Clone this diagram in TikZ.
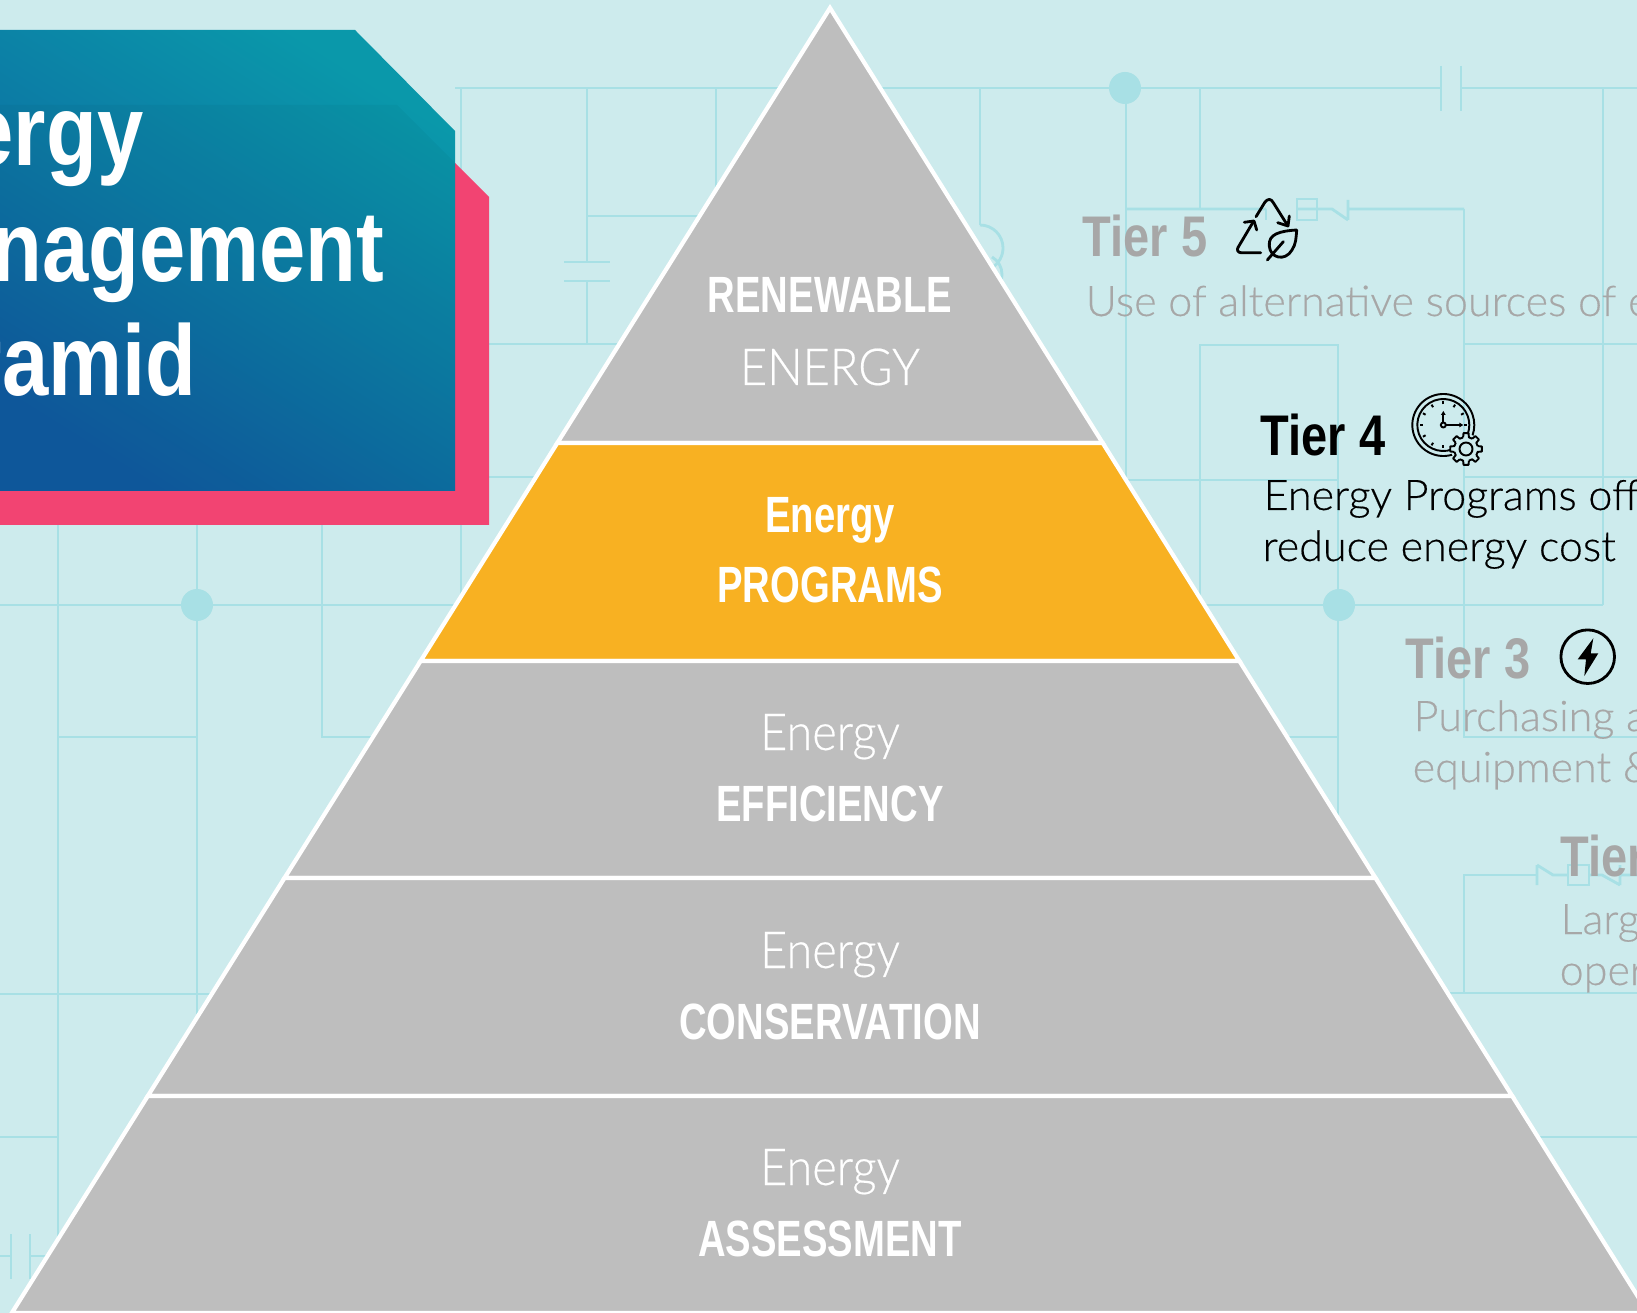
\documentclass[tikz,border=0pt]{standalone}
\usepackage{xcolor}
\usepackage{fontspec}
\usepackage{tikz}
\newfontfamily\boldcond[FakeStretch=.75]{Liberation Sans Bold}
\newfontfamily\titlebold[FakeStretch=.83]{Liberation Sans Bold}
\newfontfamily\tierbold[FakeStretch=.82]{Liberation Sans Bold}
\newfontfamily\lightcond[FakeStretch=.92,FakeBold=.4]{Lato Light}
\newfontfamily\lightwide[FakeStretch=1.02,FakeBold=.4]{Lato Light}
\newcommand{\fsize}[1]{\fontsize{#1}{#1}\selectfont}
\definecolor{bgteal}{HTML}{CDEBED}
\definecolor{wireteal}{HTML}{A8E0E5}
\definecolor{pyrgray}{HTML}{BEBEBE}
\definecolor{pyrorange}{HTML}{F8B122}
\definecolor{titlepink}{HTML}{F24472}
\definecolor{titleblue}{HTML}{0F5A9F}
\definecolor{titlegreen}{HTML}{0A98AA}
\definecolor{tiergray}{HTML}{A7A7A7}
\begin{document}
\begin{tikzpicture}[x=0.01cm,y=-0.01cm,
            wire/.style = {draw=wireteal,line width=0.8pt},
            junction/.style = {fill=wireteal},
            band/.style = {draw=white,line width=1.2pt},
            pyrbold/.style = {anchor=base,inner sep=0pt,text=white,font=\boldcond\fsize{14.5}},
            pyrlight/.style = {anchor=base,inner sep=0pt,text=white,font=\lightcond\fsize{14.5}},
            titleline/.style = {anchor=base east,inner sep=0pt,text=white,font=\titlebold\fsize{28.5}},
            tierhead/.style = {anchor=base west,inner sep=0pt,font=\tierbold\fsize{16.3}},
            tiertext/.style = {anchor=base west,inner sep=0pt,font=\lightwide\fsize{12}},
            icon/.style = {draw=black,line width=0.8pt,line cap=round,line join=round},
            fineicon/.style = {draw=black,line width=0.55pt,line join=round}]
            \useasboundingbox (0,0) rectangle (1637,1313);
            \clip (0,0) rectangle (1637,1313);
            \fill[bgteal] (0,0) rectangle (1637,1313);
            % Circuit, upper part
            \draw[wire] (455,88) -- (1441,88) (1461,88) -- (1637,88);
            \draw[wire] (1441,66) -- (1441,111) (1461,66) -- (1461,111);
            \draw[wire] (461,88) -- (461,600);
            \draw[wire] (587,88) -- (587,262) (564,262) -- (610,262) (564,281) -- (610,281) (587,281) -- (587,344);
            \draw[wire] (587,216) -- (700,216);
            \draw[wire] (716,88) -- (716,190);
            \draw[wire] (489,344) -- (625,344) (489,477) -- (540,477);
            \draw[wire] (980,88) -- (980,225);
            \draw[wire] (980,225) arc[start angle=-90,end angle=60,radius=23];
            \draw[wire] (992,257) arc[start angle=-60,end angle=40,radius=20];
            % Circuit, right part
            \draw[wire] (1126,88) -- (1126,480) -- (1338,480);
            \draw[wire] (1200,88) -- (1200,209);
            \draw[wire] (1126,209) -- (1266,209) (1297,209) -- (1317,209) (1317,209) -- (1332,209) -- (1348,220) (1348,200) -- (1348,220) (1348,209) -- (1464,209);
            \draw[wire] (1266,209) -- (1266,220);
            \draw[wire] (1297,199) rectangle (1317,220);
            \draw[wire] (1200,600) -- (1200,345) -- (1338,345) -- (1338,817);
            \draw[wire] (1464,209) -- (1464,737) -- (1637,737);
            \draw[wire] (1603,88) -- (1603,605);
            \draw[wire] (1464,344) -- (1637,344) (1464,477) -- (1637,477);
            \draw[wire] (1195,605) -- (1603,605);
            \draw[wire] (1285,737) -- (1338,737);
            \draw[wire] (1450,993) -- (1637,993) (1464,993) -- (1464,875) -- (1537,875);
            \draw[wire] (1537,865) -- (1537,885) (1537,865) -- (1553,875) -- (1568,875);
            \draw[wire] (1568,865) rectangle (1589,885);
            \draw[wire] (1589,875) -- (1602,875) -- (1620,885) (1620,865) -- (1620,885) (1620,875) -- (1637,875);
            \draw[wire] (1535,1137) -- (1637,1137);
            % Circuit, lower left part
            \draw[wire] (0,605) -- (460,605);
            \draw[wire] (58,525) -- (58,1240);
            \draw[wire] (197,525) -- (197,1014);
            \draw[wire] (322,525) -- (322,737) -- (375,737);
            \draw[wire] (58,737) -- (197,737);
            \draw[wire] (0,994) -- (212,994) (0,1137) -- (58,1137);
            \draw[wire] (11,1234) -- (11,1279) (30,1234) -- (30,1279) (0,1256) -- (11,1256) (30,1256) -- (48,1256);
            \fill[junction] (1125,88) circle (16);
            \fill[junction] (1339,605) circle (16);
            \fill[junction] (197,605) circle (16);
            % Title box
            \fill[titlepink] (-5,105) -- (397,105) -- (489,197) -- (489,525) -- (-5,525) -- cycle;
            \shade[bottom color=titleblue,top color=titlegreen,shading angle=-32] (-5,30) -- (355,30) -- (455,131) -- (455,491) -- (-5,491) -- cycle;
            \fill[black,opacity=.03] (-5,105) -- (397,105) -- (455,163) -- (455,491) -- (-5,491) -- cycle;
            \node[titleline] (titleA) at (144,166) {ergy};
            \node[titleline] (titleB) at (385,282) {nagement};
            \node[titleline] (titleC) at (197,396) {ramid};
            % Pyramid bands
            \fill[pyrgray] (830,8) -- (1102.7,443) -- (557.3,443) -- cycle;
            \draw[band] (830,8) -- (1102.7,443) -- (557.3,443) -- cycle;
            \fill[pyrorange] (557.3,443) -- (1102.7,443) -- (1239.4,661) -- (420.6,661) -- cycle;
            \draw[band] (557.3,443) -- (1102.7,443) -- (1239.4,661) -- (420.6,661) -- cycle;
            \fill[pyrgray] (420.6,661) -- (1239.4,661) -- (1375.5,878) -- (284.5,878) -- cycle;
            \draw[band] (420.6,661) -- (1239.4,661) -- (1375.5,878) -- (284.5,878) -- cycle;
            \fill[pyrgray] (284.5,878) -- (1375.5,878) -- (1512.2,1096) -- (147.8,1096) -- cycle;
            \draw[band] (284.5,878) -- (1375.5,878) -- (1512.2,1096) -- (147.8,1096) -- cycle;
            \fill[pyrgray] (147.8,1096) -- (1512.2,1096) -- (1648.2,1313) -- (11.8,1313) -- cycle;
            \draw[band] (147.8,1096) -- (1512.2,1096) -- (1648.2,1313) -- (11.8,1313) -- cycle;
            % Pyramid labels
            \node[pyrbold] (renewable) at (830,313) {RENEWABLE};
            \node[pyrlight] (energyA) at (830,385) {ENERGY};
            \node[pyrbold] (energyB) at (830,532) {Energy};
            \node[pyrbold] (programs) at (830,603) {PROGRAMS};
            \node[pyrlight] (energyC) at (830,750) {Energy};
            \node[pyrbold] (efficiency) at (830,821) {EFFICIENCY};
            \node[pyrlight] (energyD) at (830,968) {Energy};
            \node[pyrbold] (conservation) at (830,1039) {CONSERVATION};
            \node[pyrlight] (energyE) at (830,1185) {Energy};
            \node[pyrbold] (assessment) at (830,1256) {ASSESSMENT};
            % Tier texts
            \node[tierhead,text=tiergray] (tierfive) at (1082,257) {Tier 5};
            \node[tiertext,text=tiergray] (textfive) at (1085,316) {Use of alternative sources of e};
            \node[tierhead,text=black] (tierfour) at (1260,456) {Tier 4};
            \node[tiertext,text=black] (textfourA) at (1263,510) {Energy Programs off};
            \node[tiertext,text=black] (textfourB) at (1262,561) {reduce energy cost};
            \node[tierhead,text=tiergray] (tierthree) at (1405,678) {Tier 3};
            \node[tiertext,text=tiergray] (textthreeA) at (1413,731) {Purchasing a};
            \node[tiertext,text=tiergray] (textthreeB) at (1412,782) {equipment \&};
            \node[tierhead,text=tiergray] (tiertwo) at (1560,876) {Tier};
            \node[tiertext,text=tiergray] (texttwoA) at (1560,934) {Larg};
            \node[tiertext,text=tiergray] (texttwoB) at (1559,985) {oper};
            % Recycle icon
            \draw[icon] (1256,216.7) -- (1265,202) .. controls (1268,198.5) and (1271,198.5) .. (1273.3,202.7) -- (1287.3,225);
            \draw[icon] (1277.7,222.7) -- (1288,226) -- (1289.3,216);
            \draw[icon] (1260.7,252.7) -- (1241,252.7) .. controls (1238,252.7) and (1236.5,250) .. (1238,247.5) -- (1253.3,221.7);
            \draw[icon] (1244.3,222.3) -- (1254,221) -- (1256.7,230);
            \draw[icon] (1296.7,230) .. controls (1280,231) and (1268,234) .. (1269.3,246) .. controls (1270,258) and (1285,262) .. (1292,250) .. controls (1296,244) and (1296,238) .. (1296.7,230);
            \draw[icon] (1267.3,260) -- (1283.3,241.7);
            % Clock icon
            \begin{scope}[shift={(1443.3,425)}]
                \draw[fineicon] (70:31) arc[start angle=70,end angle=380,radius=31];
                \draw[fineicon] (70:26) arc[start angle=70,end angle=380,radius=26];
                \foreach \a in {0,90,120,...,330}
                    \draw[fineicon] (\a:20.5) -- (\a:23.5);
                \draw[fineicon] (0,-2.5) -- (0,-12);
                \draw[fineicon] (2.5,0) -- (17,0);
                \fill[black] (-2.4,-10) -- (0,-14) -- (2.4,-10) -- cycle;
                \fill[black] (16,-2.4) -- (20,0) -- (16,2.4) -- cycle;
                \draw[fineicon] (0,0) circle (2.5);
            \end{scope}
            % Gear icon
            \begin{scope}[shift={(1466,449)}]
                \fill[bgteal] (0,0) circle (15);
                \foreach \a in {0,45,...,315}
                    \draw[fineicon] (\a-14:12) -- (\a-9:16) -- (\a+9:16) -- (\a+14:12) -- (\a+31:12);
                \draw[fineicon] (0,0) circle (6.5);
            \end{scope}
            % Lightning icon
            \draw[icon] (1587.7,656.7) circle (26.8);
            \fill[black] (1593.3,638.3) -- (1577.7,659.3) -- (1586,659.3) -- (1584.3,676) -- (1598.3,653.3) -- (1590.7,653.3) -- cycle;
        \end{tikzpicture}
\end{document}
